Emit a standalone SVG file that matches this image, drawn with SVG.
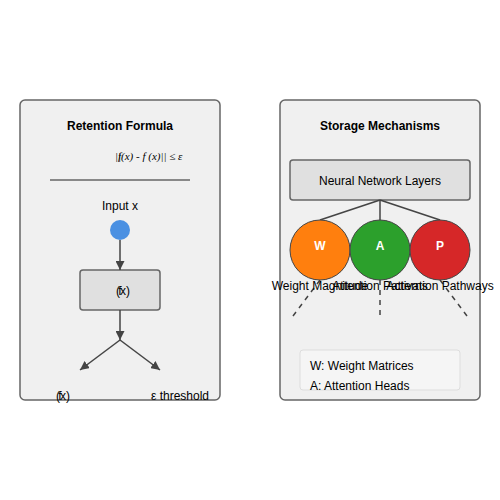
<svg xmlns="http://www.w3.org/2000/svg" width="500" height="500" viewBox="0 0 500 500">
<defs>
<marker id="arr" viewBox="0 0 10 10" refX="10" refY="5" markerWidth="6" markerHeight="6" orient="auto">
<path d="M0,0 L10,5 L0,10 z" fill="#444"/>
</marker>
<style>
.panel{fill:#f0f0f0;stroke:#666;stroke-width:1.5}
.title{font-family:"Liberation Sans",Arial,sans-serif;font-size:12px;font-weight:bold;text-anchor:middle;fill:#000}
.lbl{font-family:"Liberation Sans",Arial,sans-serif;font-size:12px;text-anchor:middle;fill:#000}
.math{font-family:"Liberation Serif","Times New Roman",serif;font-size:11px;font-style:italic;fill:#000}
.box{fill:#e0e0e0;stroke:#666;stroke-width:1.5}
.conn{stroke:#444;stroke-width:1.5;fill:none}
.dash{stroke:#444;stroke-width:1.5;stroke-dasharray:5,5;fill:none}
.circ{stroke:#444;stroke-width:1}
.letter{font-family:"Liberation Sans",Arial,sans-serif;font-size:12px;font-weight:bold;fill:#fff;text-anchor:middle}
.leg{font-family:"Liberation Sans",Arial,sans-serif;font-size:12px;fill:#000}
</style>
</defs>
<rect width="500" height="500" fill="#fff"/>
<g id="panel-left">
<rect class="panel" x="20" y="100" width="200" height="300" rx="5"/>
<text class="title" x="120" y="130">Retention Formula</text>
<text class="math" x="115" y="160">||(x) - f (x)|| ≤ ε</text>
<text class="math" x="118" y="160">f</text>
<line x1="50" y1="180" x2="190" y2="180" stroke="#888" stroke-width="2"/>
</g>
<g id="input">
<text class="lbl" x="120" y="210">Input x</text>
<circle cx="120" cy="230" r="10" fill="#4a90e2"/>
</g>
<g id="fx-box">
<rect class="box" x="80" y="270" width="80" height="40" rx="3"/>
<text class="lbl" x="123" y="295">(x)</text>
<text class="lbl" x="120" y="295">f</text>
</g>
<g id="out-fx">
<text class="lbl" x="63" y="400">(x)</text>
<text class="lbl" x="60" y="400">f</text>
</g>
<g id="out-eps">
<text class="lbl" x="180" y="400">ε threshold</text>
</g>
<g id="panel-right">
<rect class="panel" x="280" y="100" width="200" height="300" rx="5"/>
<text class="title" x="380" y="130">Storage Mechanisms</text>
</g>
<g id="nn-layers">
<rect class="box" x="290" y="160" width="180" height="40" rx="3"/>
<text class="lbl" x="380" y="185">Neural Network Layers</text>
</g>
<g id="connectors">
<line class="conn" x1="120" y1="240" x2="120" y2="270" marker-end="url(#arr)"/>
<line class="conn" x1="120" y1="310" x2="120" y2="340" marker-end="url(#arr)"/>
<line class="conn" x1="120" y1="340" x2="80" y2="370" marker-end="url(#arr)"/>
<line class="conn" x1="120" y1="340" x2="160" y2="370" marker-end="url(#arr)"/>
<line class="conn" x1="380" y1="200" x2="320" y2="220"/>
<line class="conn" x1="380" y1="200" x2="380" y2="220"/>
<line class="conn" x1="380" y1="200" x2="440" y2="220"/>
<line class="dash" x1="320" y1="280" x2="290" y2="320"/>
<line class="dash" x1="380" y1="280" x2="380" y2="320"/>
<line class="dash" x1="440" y1="280" x2="470" y2="320"/>
</g>
<g id="node-w">
<circle class="circ" cx="320" cy="250" r="30" fill="#ff7f0e"/>
<text class="letter" x="320" y="250">W</text>
</g>
<g id="node-a">
<circle class="circ" cx="380" cy="250" r="30" fill="#2ca02c"/>
<text class="letter" x="380" y="250">A</text>
</g>
<g id="node-p">
<circle class="circ" cx="440" cy="250" r="30" fill="#d62728"/>
<text class="letter" x="440" y="250">P</text>
</g>
<g id="labels">
<text class="lbl" x="320" y="290">Weight Magnitude</text>
<text class="lbl" x="380" y="290">Attention Patterns</text>
<text class="lbl" x="440" y="290">Activation Pathways</text>
</g>
<g id="legend">
<rect x="300" y="350" width="160" height="40" rx="3" fill="#f5f5f5" stroke="#ddd"/>
<text class="leg" x="310" y="370">W: Weight Matrices</text>
<text class="leg" x="310" y="390">A: Attention Heads</text>
</g>
</svg>
